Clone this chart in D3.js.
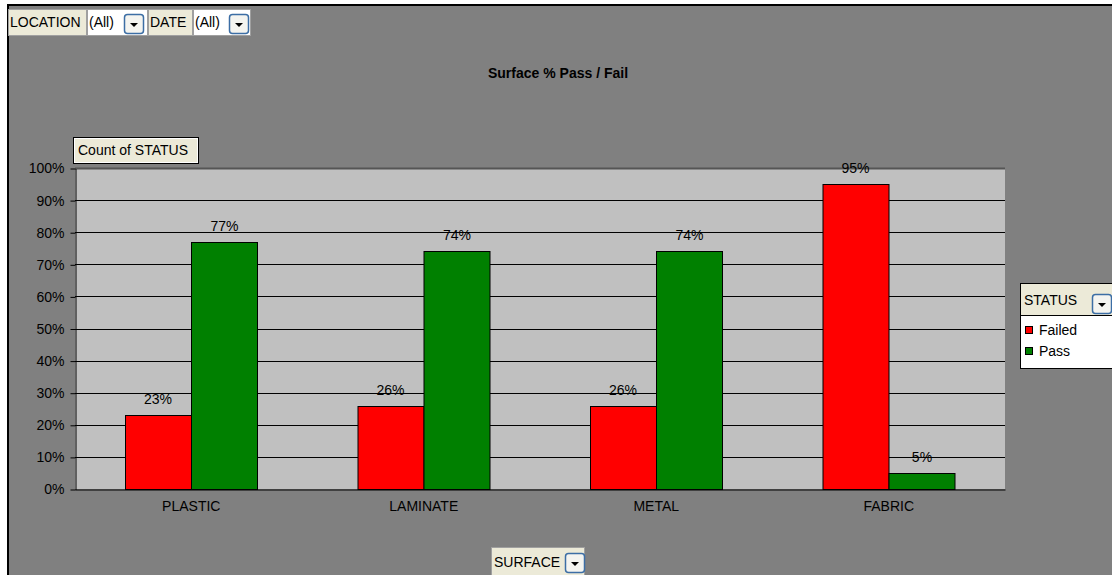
<!DOCTYPE html>
<html>
<head>
<meta charset="utf-8">
<script src="https://cdn.jsdelivr.net/npm/d3@7"></script>
<style>
  body { margin: 0; background: #fff; }
  svg text { font-family: Arial, "Liberation Sans", sans-serif; }
</style>
</head>
<body>
<div id="chart"></div>
<script>
// data
const categories = ["PLASTIC", "LAMINATE", "METAL", "FABRIC"];
const series = ["Failed", "Pass"];
const failedValues = [0.23, 0.26, 0.26, 0.95];
const passValues = [0.77, 0.74, 0.74, 0.05];
const yTicks = [0, 0.1, 0.2, 0.3, 0.4, 0.5, 0.6, 0.7, 0.8, 0.9, 1.0];
const colors = { "Failed": "#ff0000", "Pass": "#008000" };

const width = 1112, height = 575;
const plot = { left: 75, right: 1005, top: 168, bottom: 489 };
const fontSize = 14;

const svg = d3.select("#chart").append("svg")
    .attr("width", width)
    .attr("height", height);

// chart area
svg.append("rect")
  .attr("x", 8).attr("y", 5)
  .attr("width", width + 10).attr("height", height + 10)
  .attr("fill", "#808080")
  .attr("stroke", "#000")
  .attr("stroke-width", 2);

svg.append("text")
  .attr("x", 558).attr("y", 78)
  .attr("text-anchor", "middle")
  .attr("font-size", fontSize).attr("font-weight", "bold")
  .text("Surface % Pass / Fail");

// plot area
svg.append("rect")
  .attr("x", plot.left).attr("y", plot.top)
  .attr("width", plot.right - plot.left).attr("height", plot.bottom - plot.top)
  .attr("fill", "#c0c0c0");

const x0 = d3.scaleBand()
    .domain(categories)
    .range([plot.left, plot.right]);

// excel style gap width of 150%
const x1 = d3.scaleBand()
    .domain(series)
    .range([0, x0.bandwidth()])
    .paddingInner(0)
    .paddingOuter(0.75);

const y = d3.scaleLinear()
    .domain([0, 1])
    .range([plot.bottom, plot.top]);

// gridlines
svg.append("g")
  .selectAll("line")
  .data(yTicks.slice(1))
  .enter().append("line")
  .attr("x1", plot.left).attr("x2", plot.right)
  .attr("y1", (d) => Math.round(y(d)) + 0.5)
  .attr("y2", (d) => Math.round(y(d)) + 0.5)
  .attr("stroke", (d) => d == 1 ? "#555" : "#000")
  .attr("stroke-width", (d) => d == 1 ? 2 : 1);

// y axis
const yAxis = d3.axisLeft(y)
    .tickValues(yTicks)
    .tickFormat(d3.format(".0%"))
    .tickSize(5)
    .tickSizeOuter(0);

const gy = svg.append("g")
  .attr("transform", "translate(" + (plot.left + 0.5) + ",0.5)")
  .call(yAxis);
gy.select(".domain").attr("stroke", "#000");
gy.selectAll(".tick line").attr("stroke", "#000");
gy.selectAll(".tick text")
  .attr("font-size", fontSize)
  .attr("font-family", "Arial, 'Liberation Sans', sans-serif")
  .attr("fill", "#000")
  .attr("x", -11);

// x axis
const xAxis = d3.axisBottom(x0).tickSize(0).tickSizeOuter(0);
const gx = svg.append("g")
  .attr("transform", "translate(0," + (plot.bottom + 0.5) + ")")
  .call(xAxis);
gx.select(".domain").attr("stroke", "#000");
gx.selectAll(".tick text")
  .attr("font-size", fontSize)
  .attr("font-family", "Arial, 'Liberation Sans', sans-serif")
  .attr("fill", "#000")
  .attr("y", 12)
  .attr("dy", "0.71em");

// bars
const rows = categories.map((c, i) => ({
  cat: c,
  vals: [{ s: "Failed", v: failedValues[i] }, { s: "Pass", v: passValues[i] }]
}));

const groups = svg.append("g")
  .selectAll("g")
  .data(rows)
  .enter().append("g")
  .attr("transform", (d) => "translate(" + x0(d.cat) + ",0)");

groups.selectAll("rect")
  .data((d) => d.vals)
  .enter().append("rect")
  .attr("x", (d) => Math.round(x1(d.s)) + 0.5)
  .attr("y", (d) => Math.round(y(d.v)) + 0.5)
  .attr("width", Math.round(x1.bandwidth()))
  .attr("height", (d) => Math.round(y(0)) - Math.round(y(d.v)))
  .attr("fill", (d) => colors[d.s])
  .attr("stroke", "#000");

groups.selectAll("text")
  .data((d) => d.vals)
  .enter().append("text")
  .attr("x", (d) => x1(d.s) + x1.bandwidth() / 2)
  .attr("y", (d) => y(d.v) - 11)
  .attr("text-anchor", "middle")
  .attr("font-size", fontSize)
  .text((d) => d3.format(".0%")(d.v));

// field buttons
function dropArrow(x, yy) {
  svg.append("rect")
    .attr("x", x + 0.5).attr("y", yy + 0.5)
    .attr("width", 19).attr("height", 19)
    .attr("rx", 3)
    .attr("fill", "#f4f4f0")
    .attr("stroke", "#3c6ea5")
    .attr("stroke-width", 1.5);
  svg.append("path")
    .attr("d", "M" + (x + 6) + "," + (yy + 9) + "h8l-4,4z")
    .attr("fill", "#000");
}

function fieldButton(x, yy, w, h, label, fill) {
  svg.append("rect")
    .attr("x", x + 0.5).attr("y", yy + 0.5)
    .attr("width", w).attr("height", h)
    .attr("fill", fill)
    .attr("stroke", "#a0a0a0");
  svg.append("text")
    .attr("x", x + 2).attr("y", yy + 18)
    .attr("font-size", fontSize)
    .text(label);
}

fieldButton(8, 9, 78, 26, "LOCATION", "#ecead8");
fieldButton(87, 9, 60, 26, "(All)", "#fff");
dropArrow(124, 14);
fieldButton(148, 9, 44, 26, "DATE", "#ecead8");
fieldButton(193, 9, 57, 26, "(All)", "#fff");
dropArrow(229, 14);

// Count of STATUS data field
svg.append("rect")
  .attr("x", 73.5).attr("y", 137.5)
  .attr("width", 125).attr("height", 26)
  .attr("fill", "#ecead8")
  .attr("stroke", "#000");
svg.append("rect")
  .attr("x", 74.5).attr("y", 138.5)
  .attr("width", 123).attr("height", 24)
  .attr("fill", "none")
  .attr("stroke", "#fff");
svg.append("text")
  .attr("x", 78).attr("y", 155)
  .attr("font-size", fontSize)
  .text("Count of STATUS");

// SURFACE button
svg.append("rect")
  .attr("x", 491.5).attr("y", 547.5)
  .attr("width", 93).attr("height", 30)
  .attr("fill", "#ecead8")
  .attr("stroke", "#a0a0a0");
svg.append("text")
  .attr("x", 494).attr("y", 567)
  .attr("font-size", fontSize)
  .text("SURFACE");
dropArrow(565, 553);

// legend
const legend = svg.append("g");
legend.append("rect")
  .attr("x", 1020.5).attr("y", 283.5)
  .attr("width", 95).attr("height", 85)
  .attr("fill", "#fff")
  .attr("stroke", "#000");
legend.append("rect")
  .attr("x", 1021).attr("y", 284)
  .attr("width", 94).attr("height", 31)
  .attr("fill", "#ecead8");
legend.append("line")
  .attr("x1", 1020).attr("x2", 1112)
  .attr("y1", 315.5).attr("y2", 315.5)
  .attr("stroke", "#000");
legend.append("text")
  .attr("x", 1024).attr("y", 305)
  .attr("font-size", fontSize)
  .text("STATUS");
dropArrow(1092, 294);

legend.selectAll(".key")
  .data(series)
  .enter().append("rect")
  .attr("class", "key")
  .attr("x", 1025.5)
  .attr("y", (d, i) => 326.5 + i * 21)
  .attr("width", 7).attr("height", 7)
  .attr("fill", (d) => colors[d])
  .attr("stroke", "#000");

legend.selectAll(".keylabel")
  .data(series)
  .enter().append("text")
  .attr("class", "keylabel")
  .attr("x", 1039)
  .attr("y", (d, i) => 335 + i * 21)
  .attr("font-size", fontSize)
  .text((d) => d);
</script>
</body>
</html>
